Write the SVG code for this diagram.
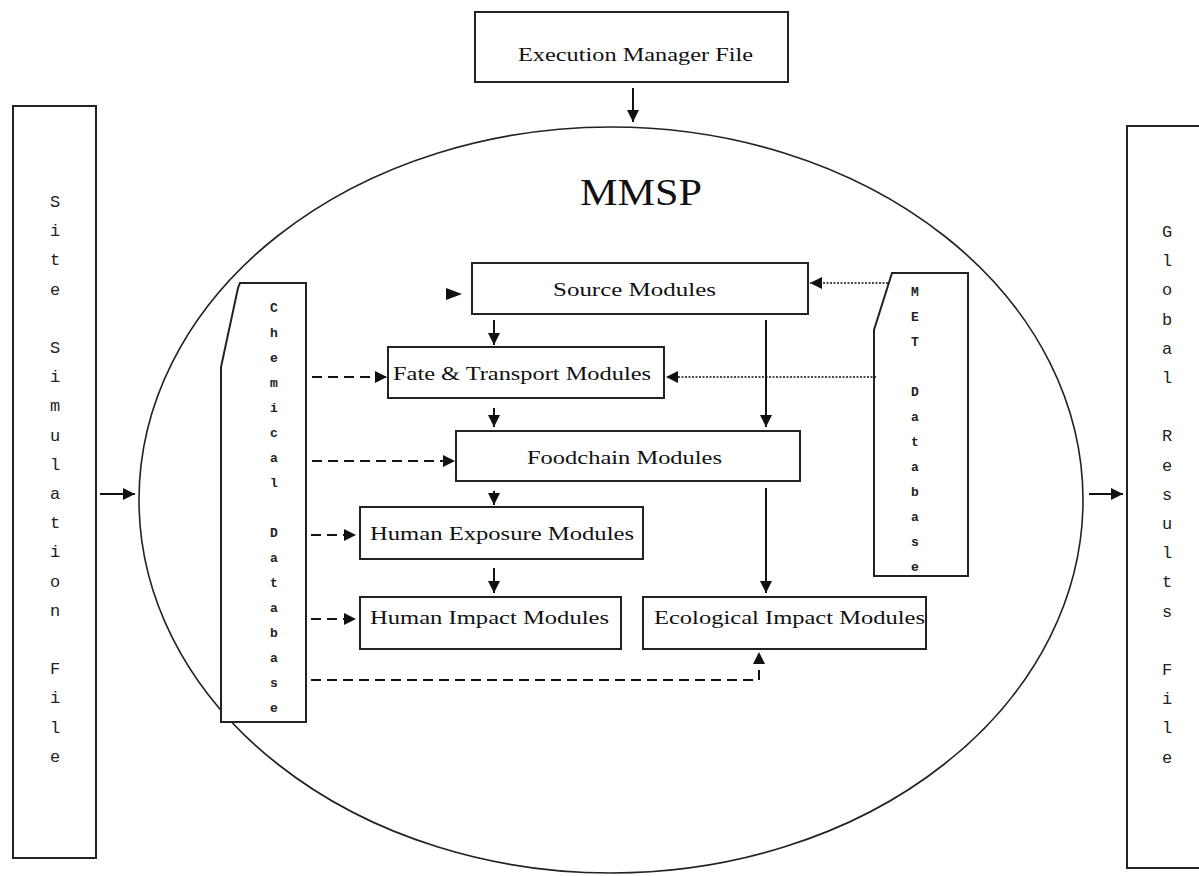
<svg xmlns="http://www.w3.org/2000/svg" width="1199" height="876" viewBox="0 0 1199 876">
<style>
.box{fill:#fff;stroke:#222;stroke-width:2}
.lbl{font-family:"Liberation Serif",serif;font-size:18px;fill:#111}
.vt{font-family:"Liberation Mono",monospace;font-size:17px;fill:#222;text-anchor:middle}
.vs{font-family:"Liberation Mono",monospace;font-size:13px;font-weight:bold;fill:#222;text-anchor:middle}
.c{stroke:#111;stroke-width:2;fill:none}
.dash{stroke-dasharray:10 6}
.dot{stroke-width:1.5;stroke-dasharray:2 1.5}
</style>
<defs>
<marker id="ah" viewBox="0 0 12 12" refX="12" refY="6" markerWidth="12" markerHeight="12" orient="auto" markerUnits="userSpaceOnUse">
<path d="M0,0 L12,6 L0,12 z" fill="#111"/>
</marker>
</defs>
<rect width="1199" height="876" fill="#fff"/>
<g id="mmsp">
<ellipse cx="611" cy="500" rx="472" ry="373" fill="none" stroke="#222" stroke-width="1.6"/>
<text x="641" y="205" font-family="Liberation Serif,serif" font-size="38" text-anchor="middle" textLength="122" lengthAdjust="spacingAndGlyphs" fill="#111">MMSP</text>
</g>
<g id="exec">
<rect class="box" x="475" y="12" width="313" height="70"/>
<text class="lbl" x="518" y="61" textLength="235" lengthAdjust="spacingAndGlyphs">Execution Manager File</text>
</g>
<g id="site">
<rect class="box" x="13" y="106" width="83" height="752"/>
<text class="vt" x="55" y="207"><tspan x="55" dy="0">S</tspan><tspan x="55" dy="29.2">i</tspan><tspan x="55" dy="29.2">t</tspan><tspan x="55" dy="29.2">e</tspan><tspan x="55" dy="58.4">S</tspan><tspan x="55" dy="29.2">i</tspan><tspan x="55" dy="29.2">m</tspan><tspan x="55" dy="29.2">u</tspan><tspan x="55" dy="29.2">l</tspan><tspan x="55" dy="29.2">a</tspan><tspan x="55" dy="29.2">t</tspan><tspan x="55" dy="29.2">i</tspan><tspan x="55" dy="29.2">o</tspan><tspan x="55" dy="29.2">n</tspan><tspan x="55" dy="58.4">F</tspan><tspan x="55" dy="29.2">i</tspan><tspan x="55" dy="29.2">l</tspan><tspan x="55" dy="29.2">e</tspan></text>
</g>
<g id="global">
<rect class="box" x="1127" y="126" width="90" height="742"/>
<text class="vt" x="1167" y="237"><tspan x="1167" dy="0">G</tspan><tspan x="1167" dy="29.2">l</tspan><tspan x="1167" dy="29.2">o</tspan><tspan x="1167" dy="29.2">b</tspan><tspan x="1167" dy="29.2">a</tspan><tspan x="1167" dy="29.2">l</tspan><tspan x="1167" dy="58.4">R</tspan><tspan x="1167" dy="29.2">e</tspan><tspan x="1167" dy="29.2">s</tspan><tspan x="1167" dy="29.2">u</tspan><tspan x="1167" dy="29.2">l</tspan><tspan x="1167" dy="29.2">t</tspan><tspan x="1167" dy="29.2">s</tspan><tspan x="1167" dy="58.4">F</tspan><tspan x="1167" dy="29.2">i</tspan><tspan x="1167" dy="29.2">l</tspan><tspan x="1167" dy="29.2">e</tspan></text>
</g>
<g id="chemical">
<polygon class="box" points="240,283 306,283 306,722 221,722 221,367 238,288"/>
<text class="vs" x="274" y="312"><tspan x="274" dy="0">C</tspan><tspan x="274" dy="25">h</tspan><tspan x="274" dy="25">e</tspan><tspan x="274" dy="25">m</tspan><tspan x="274" dy="25">i</tspan><tspan x="274" dy="25">c</tspan><tspan x="274" dy="25">a</tspan><tspan x="274" dy="25">l</tspan><tspan x="274" dy="50">D</tspan><tspan x="274" dy="25">a</tspan><tspan x="274" dy="25">t</tspan><tspan x="274" dy="25">a</tspan><tspan x="274" dy="25">b</tspan><tspan x="274" dy="25">a</tspan><tspan x="274" dy="25">s</tspan><tspan x="274" dy="25">e</tspan></text>
</g>
<g id="met">
<polygon class="box" points="892,273 968,273 968,576 874,576 874,330"/>
<text class="vs" x="915" y="296"><tspan x="915" dy="0">M</tspan><tspan x="915" dy="25">E</tspan><tspan x="915" dy="25">T</tspan><tspan x="915" dy="50">D</tspan><tspan x="915" dy="25">a</tspan><tspan x="915" dy="25">t</tspan><tspan x="915" dy="25">a</tspan><tspan x="915" dy="25">b</tspan><tspan x="915" dy="25">a</tspan><tspan x="915" dy="25">s</tspan><tspan x="915" dy="25">e</tspan></text>
</g>
<g id="source">
<rect class="box" x="472" y="263" width="336" height="51"/>
<text class="lbl" x="553" y="296" textLength="163" lengthAdjust="spacingAndGlyphs">Source Modules</text>
</g>
<g id="fate">
<rect class="box" x="388" y="347" width="276" height="51"/>
<text class="lbl" x="393" y="380" textLength="258" lengthAdjust="spacingAndGlyphs">Fate &amp; Transport Modules</text>
</g>
<g id="foodchain">
<rect class="box" x="456" y="431" width="344" height="50"/>
<text class="lbl" x="527" y="464" textLength="195" lengthAdjust="spacingAndGlyphs">Foodchain Modules</text>
</g>
<g id="exposure">
<rect class="box" x="360" y="507" width="283" height="52"/>
<text class="lbl" x="370" y="540" textLength="264" lengthAdjust="spacingAndGlyphs">Human Exposure Modules</text>
</g>
<g id="himpact">
<rect class="box" x="360" y="597" width="261" height="52"/>
<text class="lbl" x="370" y="624" textLength="239" lengthAdjust="spacingAndGlyphs">Human Impact Modules</text>
</g>
<g id="eimpact">
<rect class="box" x="643" y="597" width="283" height="52"/>
<text class="lbl" x="654" y="624" textLength="271" lengthAdjust="spacingAndGlyphs">Ecological Impact Modules</text>
</g>
<g id="connectors">
<line class="c" x1="633" y1="88" x2="633" y2="122" marker-end="url(#ah)"/>
<line class="c" x1="100" y1="494" x2="135" y2="494" marker-end="url(#ah)"/>
<line class="c" x1="1089" y1="494" x2="1123" y2="494" marker-end="url(#ah)"/>
<path d="M446,288 L462,294 L446,300 z" fill="#111"/>
<line class="c" x1="494" y1="320" x2="494" y2="345" marker-end="url(#ah)"/>
<line class="c" x1="494" y1="408" x2="494" y2="427" marker-end="url(#ah)"/>
<line class="c" x1="494" y1="491" x2="494" y2="505" marker-end="url(#ah)"/>
<line class="c" x1="494" y1="568" x2="494" y2="593" marker-end="url(#ah)"/>
<line class="c" x1="766" y1="320" x2="766" y2="427" marker-end="url(#ah)"/>
<line class="c" x1="766" y1="488" x2="766" y2="593" marker-end="url(#ah)"/>
<line class="c dot" x1="888" y1="283" x2="810" y2="283" marker-end="url(#ah)"/>
<line class="c dot" x1="876" y1="377" x2="666" y2="377" marker-end="url(#ah)"/>
<line class="c dash" x1="312" y1="377" x2="387" y2="377" marker-end="url(#ah)"/>
<line class="c dash" x1="312" y1="461" x2="455" y2="461" marker-end="url(#ah)"/>
<line class="c dash" x1="311" y1="535" x2="356" y2="535" marker-end="url(#ah)"/>
<line class="c dash" x1="311" y1="619" x2="356" y2="619" marker-end="url(#ah)"/>
<polyline class="c dash" points="311,680 759,680 759,652" marker-end="url(#ah)"/>
</g>
</svg>
